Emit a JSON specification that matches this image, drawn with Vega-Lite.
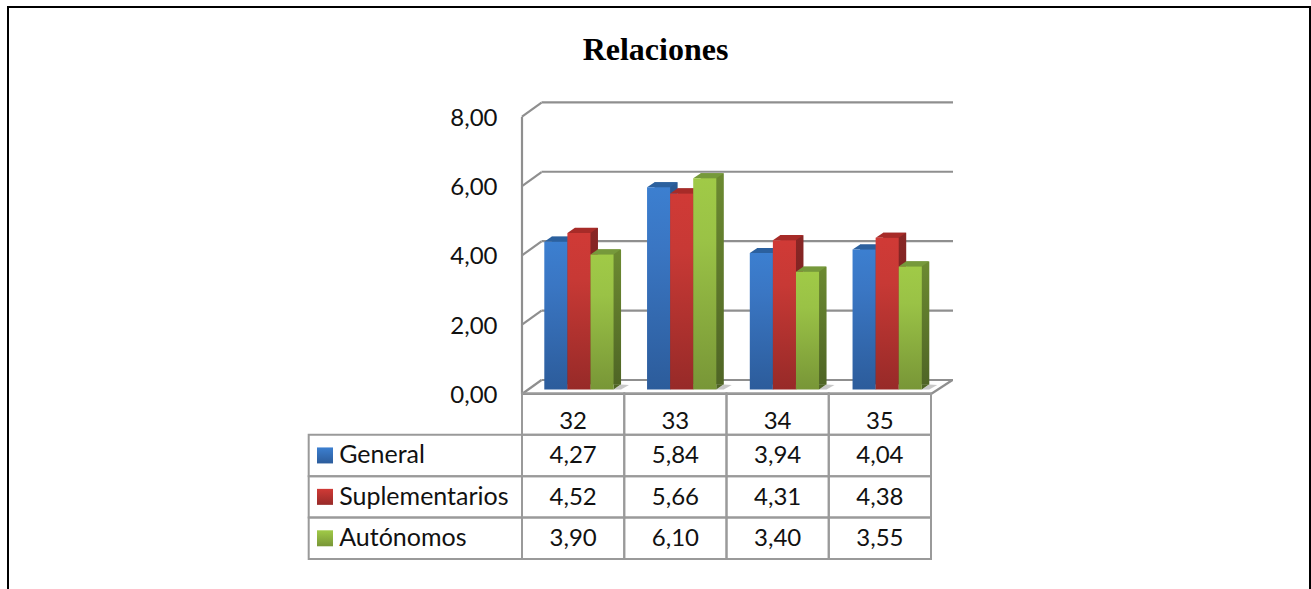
{
  "$schema": "https://vega.github.io/schema/vega-lite/v6.json",
  "width": 1311,
  "height": 589,
  "padding": 0,
  "autosize": {"type": "none"},
  "background": "white",
  "config": {
    "view": {"stroke": null},
    "locale": {"number": {"decimal": ",", "thousands": ".", "grouping": [3], "currency": ["", " €"]}},
    "text": {"font": "Lato", "fontSize": 24, "fill": "#111111"}
  },
  "title": {
    "text": "Relaciones",
    "font": "Liberation Serif",
    "fontSize": 32,
    "fontWeight": "bold",
    "color": "#000000",
    "anchor": "middle",
    "frame": "group",
    "offset": -67
  },
  "datasets": {
    "valores": [
      {"categoria": "32", "serie": "General", "valor": 4.27},
      {"categoria": "32", "serie": "Suplementarios", "valor": 4.52},
      {"categoria": "32", "serie": "Autónomos", "valor": 3.90},
      {"categoria": "33", "serie": "General", "valor": 5.84},
      {"categoria": "33", "serie": "Suplementarios", "valor": 5.66},
      {"categoria": "33", "serie": "Autónomos", "valor": 6.10},
      {"categoria": "34", "serie": "General", "valor": 3.94},
      {"categoria": "34", "serie": "Suplementarios", "valor": 4.31},
      {"categoria": "34", "serie": "Autónomos", "valor": 3.40},
      {"categoria": "35", "serie": "General", "valor": 4.04},
      {"categoria": "35", "serie": "Suplementarios", "valor": 4.38},
      {"categoria": "35", "serie": "Autónomos", "valor": 3.55}
    ],
    "marcas": [{"tick": 0}, {"tick": 2}, {"tick": 4}, {"tick": 6}, {"tick": 8}],
    "unidad": [{"n": 1}]
  },
  "resolve": {"scale": {"x": "independent", "y": "independent", "fill": "independent"}},
  "layer": [
    {
      "description": "Outer page frame, open past the lower edge",
      "data": {"name": "unidad"},
      "mark": {"type": "rect", "fill": null, "stroke": "#000000", "strokeWidth": 2},
      "encoding": {
        "x": {"datum": 0, "type": "quantitative", "scale": {"domain": [0, 1], "range": [8, 1310]}, "axis": null},
        "x2": {"datum": 1},
        "y": {"datum": 0, "type": "quantitative", "scale": {"domain": [0, 1], "range": [7, 700]}, "axis": null},
        "y2": {"datum": 1}
      }
    },
    {
      "description": "Back wall gridlines",
      "data": {"name": "marcas"},
      "mark": {"type": "rule", "stroke": "#8f8f8f", "strokeWidth": 2.2},
      "encoding": {
        "x": {"datum": 0, "type": "quantitative", "scale": {"domain": [0, 4], "range": [541.5, 953]}, "axis": null},
        "x2": {"datum": 4},
        "y": {"field": "tick", "type": "quantitative", "scale": {"domain": [0, 8], "range": [380, 102.3]}, "axis": null}
      }
    },
    {
      "description": "Side wall slants and the value axis labels",
      "data": {"name": "marcas"},
      "mark": {"type": "point", "shape": "M0,0L19.5,-14", "size": 4, "filled": false, "stroke": "#8f8f8f", "strokeWidth": 2.2, "opacity": 1},
      "encoding": {
        "x": {"datum": 0, "type": "quantitative", "scale": {"domain": [0, 4], "range": [522, 931]}, "axis": null},
        "y": {
          "field": "tick",
          "type": "quantitative",
          "scale": {"domain": [0, 8], "range": [394, 116.7]},
          "axis": {
            "orient": "left",
            "offset": -497,
            "domain": false,
            "ticks": false,
            "grid": false,
            "title": null,
            "values": [0, 2, 4, 6, 8],
            "format": ".2f",
            "labelPadding": 0,
            "labelOffset": 1.5,
            "labelFont": "Lato",
            "labelFontSize": 24,
            "labelColor": "#111111"
          }
        }
      }
    },
    {
      "description": "Floor slant at the right end",
      "data": {"name": "unidad"},
      "mark": {"type": "point", "shape": "M0,0L21.5,-14", "size": 4, "filled": false, "stroke": "#8f8f8f", "strokeWidth": 2.2, "opacity": 1},
      "encoding": {
        "x": {"datum": 4, "type": "quantitative", "scale": {"domain": [0, 4], "range": [522, 931]}, "axis": null},
        "y": {"datum": 0, "type": "quantitative", "scale": {"domain": [0, 8], "range": [394, 116.7]}, "axis": null}
      }
    },
    {
      "description": "Front vertical of the value axis",
      "data": {"name": "unidad"},
      "mark": {"type": "rule", "stroke": "#8f8f8f", "strokeWidth": 2.2},
      "encoding": {
        "x": {"datum": 0, "type": "quantitative", "scale": {"domain": [0, 4], "range": [522, 931]}, "axis": null},
        "y": {"datum": 0, "type": "quantitative", "scale": {"domain": [0, 8], "range": [394, 116.7]}, "axis": null},
        "y2": {"datum": 8}
      }
    },
    {
      "description": "Soft floor shadow beside each cluster",
      "data": {"name": "valores"},
      "transform": [{"filter": "datum.serie === 'Autónomos'"}],
      "mark": {"type": "point", "shape": "M11.5,0L19,-5L27,-4.5L19,0Z", "size": 4, "filled": true, "fill": "#9a9a9a", "opacity": 0.55},
      "encoding": {
        "x": {"field": "categoria", "type": "nominal", "scale": {"type": "band", "range": [527.55, 938.55], "paddingInner": 0.326, "paddingOuter": 0.163}, "axis": null},
        "xOffset": {"field": "serie", "type": "nominal", "scale": {"domain": ["General", "Suplementarios", "Autónomos"]}},
        "y": {"datum": 0, "type": "quantitative", "scale": {"domain": [0, 8], "range": [389.4, 112.6]}, "axis": null}
      }
    },
    {
      "description": "General side faces, pushed back along the depth axis",
      "data": {"name": "valores"},
      "transform": [{"filter": "datum.serie === 'General'"}],
      "mark": {"type": "bar", "fill": {"gradient": "linear", "x1": 0, "y1": 0, "x2": 0, "y2": 1, "stops": [{"offset": 0, "color": "#2a5a94"}, {"offset": 1, "color": "#1f4470"}]}},
      "encoding": {
        "x": {"field": "categoria", "type": "nominal", "scale": {"type": "band", "range": [535.05, 946.05], "paddingInner": 0.326, "paddingOuter": 0.163}, "axis": null},
        "xOffset": {"field": "serie", "type": "nominal", "scale": {"domain": ["General", "Suplementarios", "Autónomos"]}},
        "y": {"field": "valor", "type": "quantitative", "stack": null, "scale": {"domain": [0, 8], "range": [384.4, 107.6]}, "axis": null}
      }
    },
    {
      "description": "Suplementarios side faces",
      "data": {"name": "valores"},
      "transform": [{"filter": "datum.serie === 'Suplementarios'"}],
      "mark": {"type": "bar", "fill": {"gradient": "linear", "x1": 0, "y1": 0, "x2": 0, "y2": 1, "stops": [{"offset": 0, "color": "#892625"}, {"offset": 1, "color": "#6a1d1c"}]}},
      "encoding": {
        "x": {"field": "categoria", "type": "nominal", "scale": {"type": "band", "range": [535.05, 946.05], "paddingInner": 0.326, "paddingOuter": 0.163}, "axis": null},
        "xOffset": {"field": "serie", "type": "nominal", "scale": {"domain": ["General", "Suplementarios", "Autónomos"]}},
        "y": {"field": "valor", "type": "quantitative", "stack": null, "scale": {"domain": [0, 8], "range": [384.4, 107.6]}, "axis": null}
      }
    },
    {
      "description": "Autónomos side faces",
      "data": {"name": "valores"},
      "transform": [{"filter": "datum.serie === 'Autónomos'"}],
      "mark": {"type": "bar", "fill": {"gradient": "linear", "x1": 0, "y1": 0, "x2": 0, "y2": 1, "stops": [{"offset": 0, "color": "#6c8a31"}, {"offset": 1, "color": "#4f6525"}]}},
      "encoding": {
        "x": {"field": "categoria", "type": "nominal", "scale": {"type": "band", "range": [535.05, 946.05], "paddingInner": 0.326, "paddingOuter": 0.163}, "axis": null},
        "xOffset": {"field": "serie", "type": "nominal", "scale": {"domain": ["General", "Suplementarios", "Autónomos"]}},
        "y": {"field": "valor", "type": "quantitative", "stack": null, "scale": {"domain": [0, 8], "range": [384.4, 107.6]}, "axis": null}
      }
    },
    {
      "description": "Lower corner of each side face",
      "data": {"name": "valores"},
      "mark": {"type": "point", "shape": "M11.5,0L19,-5.2L11.5,-5.2Z", "size": 4, "filled": true, "opacity": 1},
      "encoding": {
        "x": {"field": "categoria", "type": "nominal", "scale": {"type": "band", "range": [527.55, 938.55], "paddingInner": 0.326, "paddingOuter": 0.163}, "axis": null},
        "xOffset": {"field": "serie", "type": "nominal", "scale": {"domain": ["General", "Suplementarios", "Autónomos"]}},
        "y": {"datum": 0, "type": "quantitative", "scale": {"domain": [0, 8], "range": [389.4, 112.6]}, "axis": null},
        "fill": {"field": "serie", "type": "nominal", "legend": null, "scale": {"domain": ["General", "Suplementarios", "Autónomos"], "range": ["#1f4470", "#6a1d1c", "#4f6525"]}}
      }
    },
    {
      "description": "Bar top faces",
      "data": {"name": "valores"},
      "mark": {"type": "point", "shape": "M-11.5,0L11.5,0L19,-5.2L-4,-5.2Z", "size": 4, "filled": true, "opacity": 1},
      "encoding": {
        "x": {"field": "categoria", "type": "nominal", "scale": {"type": "band", "range": [527.55, 938.55], "paddingInner": 0.326, "paddingOuter": 0.163}, "axis": null},
        "xOffset": {"field": "serie", "type": "nominal", "scale": {"domain": ["General", "Suplementarios", "Autónomos"]}},
        "y": {"field": "valor", "type": "quantitative", "scale": {"domain": [0, 8], "range": [389.4, 112.6]}, "axis": null},
        "fill": {"field": "serie", "type": "nominal", "legend": null, "scale": {"domain": ["General", "Suplementarios", "Autónomos"], "range": ["#2b609e", "#a72b28", "#76993b"]}}
      }
    },
    {
      "description": "General front faces",
      "data": {"name": "valores"},
      "transform": [{"filter": "datum.serie === 'General'"}],
      "mark": {"type": "bar", "fill": {"gradient": "linear", "x1": 0, "y1": 0, "x2": 0, "y2": 1, "stops": [{"offset": 0, "color": "#3c7fd0"}, {"offset": 0.3, "color": "#3a76c3"}, {"offset": 1, "color": "#2c5c9b"}]}},
      "encoding": {
        "x": {"field": "categoria", "type": "nominal", "scale": {"type": "band", "range": [527.55, 938.55], "paddingInner": 0.326, "paddingOuter": 0.163}, "axis": null},
        "xOffset": {"field": "serie", "type": "nominal", "scale": {"domain": ["General", "Suplementarios", "Autónomos"]}},
        "y": {"field": "valor", "type": "quantitative", "stack": null, "scale": {"domain": [0, 8], "range": [389.4, 112.6]}, "axis": null}
      }
    },
    {
      "description": "Suplementarios front faces",
      "data": {"name": "valores"},
      "transform": [{"filter": "datum.serie === 'Suplementarios'"}],
      "mark": {"type": "bar", "fill": {"gradient": "linear", "x1": 0, "y1": 0, "x2": 0, "y2": 1, "stops": [{"offset": 0, "color": "#d03a36"}, {"offset": 0.3, "color": "#c73935"}, {"offset": 1, "color": "#972a28"}]}},
      "encoding": {
        "x": {"field": "categoria", "type": "nominal", "scale": {"type": "band", "range": [527.55, 938.55], "paddingInner": 0.326, "paddingOuter": 0.163}, "axis": null},
        "xOffset": {"field": "serie", "type": "nominal", "scale": {"domain": ["General", "Suplementarios", "Autónomos"]}},
        "y": {"field": "valor", "type": "quantitative", "stack": null, "scale": {"domain": [0, 8], "range": [389.4, 112.6]}, "axis": null}
      }
    },
    {
      "description": "Autónomos front faces",
      "data": {"name": "valores"},
      "transform": [{"filter": "datum.serie === 'Autónomos'"}],
      "mark": {"type": "bar", "fill": {"gradient": "linear", "x1": 0, "y1": 0, "x2": 0, "y2": 1, "stops": [{"offset": 0, "color": "#a0ca47"}, {"offset": 0.3, "color": "#9ac246"}, {"offset": 1, "color": "#789637"}]}},
      "encoding": {
        "x": {"field": "categoria", "type": "nominal", "scale": {"type": "band", "range": [527.55, 938.55], "paddingInner": 0.326, "paddingOuter": 0.163}, "axis": null},
        "xOffset": {"field": "serie", "type": "nominal", "scale": {"domain": ["General", "Suplementarios", "Autónomos"]}},
        "y": {"field": "valor", "type": "quantitative", "stack": null, "scale": {"domain": [0, 8], "range": [389.4, 112.6]}, "axis": null}
      }
    },
    {
      "description": "Front edge of the floor",
      "data": {"name": "unidad"},
      "mark": {"type": "rule", "stroke": "#8f8f8f", "strokeWidth": 2.2},
      "encoding": {
        "x": {"datum": 0, "type": "quantitative", "scale": {"domain": [0, 4], "range": [522, 931]}, "axis": null},
        "x2": {"datum": 4},
        "y": {"datum": 0, "type": "quantitative", "scale": {"domain": [0, 8], "range": [394, 116.7]}, "axis": null}
      }
    },
    {
      "description": "Data table value cells",
      "data": {"name": "valores"},
      "mark": {"type": "rect", "fill": null, "stroke": "#9a9a9a", "strokeWidth": 2},
      "encoding": {
        "x": {"field": "categoria", "type": "nominal", "scale": {"type": "band", "range": [522, 931], "padding": 0}, "axis": null},
        "y": {"field": "serie", "type": "nominal", "scale": {"type": "band", "domain": ["cabecera", "General", "Suplementarios", "Autónomos"], "range": [393.3, 559], "padding": 0}, "axis": null}
      }
    },
    {
      "description": "Data table header cells",
      "data": {"name": "valores"},
      "transform": [{"filter": "datum.serie === 'General'"}],
      "mark": {"type": "rect", "fill": null, "stroke": "#9a9a9a", "strokeWidth": 2},
      "encoding": {
        "x": {"field": "categoria", "type": "nominal", "scale": {"type": "band", "range": [522, 931], "padding": 0}, "axis": null},
        "y": {"datum": "cabecera", "type": "nominal", "scale": {"type": "band", "domain": ["cabecera", "General", "Suplementarios", "Autónomos"], "range": [393.3, 559], "padding": 0}, "axis": null}
      }
    },
    {
      "description": "Data table row heading cells",
      "data": {"name": "valores"},
      "transform": [{"filter": "datum.categoria === '32'"}],
      "mark": {"type": "rect", "fill": null, "stroke": "#9a9a9a", "strokeWidth": 2},
      "encoding": {
        "x": {"datum": 0, "type": "quantitative", "scale": {"domain": [0, 1], "range": [308.7, 522]}, "axis": null},
        "x2": {"datum": 1},
        "y": {"field": "serie", "type": "nominal", "scale": {"type": "band", "domain": ["cabecera", "General", "Suplementarios", "Autónomos"], "range": [393.3, 559], "padding": 0}, "axis": null}
      }
    },
    {
      "description": "General legend swatch",
      "data": {"name": "valores"},
      "transform": [{"filter": "datum.categoria === '32' && datum.serie === 'General'"}],
      "mark": {"type": "point", "shape": "square", "size": 256, "filled": true, "opacity": 1, "xOffset": 16.3, "fill": {"gradient": "linear", "x1": 0, "y1": 0, "x2": 0, "y2": 1, "stops": [{"offset": 0, "color": "#3c7fd0"}, {"offset": 1, "color": "#2c5c9b"}]}},
      "encoding": {
        "x": {"datum": 0, "type": "quantitative", "scale": {"domain": [0, 1], "range": [308.7, 522]}, "axis": null},
        "y": {"field": "serie", "type": "nominal", "scale": {"type": "band", "domain": ["cabecera", "General", "Suplementarios", "Autónomos"], "range": [393.3, 559], "padding": 0}, "axis": null}
      }
    },
    {
      "description": "Suplementarios legend swatch",
      "data": {"name": "valores"},
      "transform": [{"filter": "datum.categoria === '32' && datum.serie === 'Suplementarios'"}],
      "mark": {"type": "point", "shape": "square", "size": 256, "filled": true, "opacity": 1, "xOffset": 16.3, "fill": {"gradient": "linear", "x1": 0, "y1": 0, "x2": 0, "y2": 1, "stops": [{"offset": 0, "color": "#d03a36"}, {"offset": 1, "color": "#972a28"}]}},
      "encoding": {
        "x": {"datum": 0, "type": "quantitative", "scale": {"domain": [0, 1], "range": [308.7, 522]}, "axis": null},
        "y": {"field": "serie", "type": "nominal", "scale": {"type": "band", "domain": ["cabecera", "General", "Suplementarios", "Autónomos"], "range": [393.3, 559], "padding": 0}, "axis": null}
      }
    },
    {
      "description": "Autónomos legend swatch",
      "data": {"name": "valores"},
      "transform": [{"filter": "datum.categoria === '32' && datum.serie === 'Autónomos'"}],
      "mark": {"type": "point", "shape": "square", "size": 256, "filled": true, "opacity": 1, "xOffset": 16.3, "fill": {"gradient": "linear", "x1": 0, "y1": 0, "x2": 0, "y2": 1, "stops": [{"offset": 0, "color": "#a0ca47"}, {"offset": 1, "color": "#789637"}]}},
      "encoding": {
        "x": {"datum": 0, "type": "quantitative", "scale": {"domain": [0, 1], "range": [308.7, 522]}, "axis": null},
        "y": {"field": "serie", "type": "nominal", "scale": {"type": "band", "domain": ["cabecera", "General", "Suplementarios", "Autónomos"], "range": [393.3, 559], "padding": 0}, "axis": null}
      }
    },
    {
      "description": "Row heading text",
      "data": {"name": "valores"},
      "transform": [{"filter": "datum.categoria === '32'"}],
      "mark": {"type": "text", "align": "left", "baseline": "middle", "dx": 30.5, "dy": 0, "fontSize": 25},
      "encoding": {
        "x": {"datum": 0, "type": "quantitative", "scale": {"domain": [0, 1], "range": [308.7, 522]}, "axis": null},
        "y": {"field": "serie", "type": "nominal", "scale": {"type": "band", "domain": ["cabecera", "General", "Suplementarios", "Autónomos"], "range": [393.3, 559], "padding": 0}, "axis": null},
        "text": {"field": "serie", "type": "nominal"}
      }
    },
    {
      "description": "Category labels in the table header",
      "data": {"name": "valores"},
      "transform": [{"filter": "datum.serie === 'General'"}],
      "mark": {"type": "text", "align": "center", "baseline": "middle", "dy": 8},
      "encoding": {
        "x": {"field": "categoria", "type": "nominal", "scale": {"type": "band", "range": [522, 931], "padding": 0}, "axis": null},
        "y": {"datum": "cabecera", "type": "nominal", "scale": {"type": "band", "domain": ["cabecera", "General", "Suplementarios", "Autónomos"], "range": [393.3, 559], "padding": 0}, "axis": null},
        "text": {"field": "categoria", "type": "nominal"}
      }
    },
    {
      "description": "Value text in the table cells",
      "data": {"name": "valores"},
      "mark": {"type": "text", "align": "center", "baseline": "middle", "dy": 1},
      "encoding": {
        "x": {"field": "categoria", "type": "nominal", "scale": {"type": "band", "range": [522, 931], "padding": 0}, "axis": null},
        "y": {"field": "serie", "type": "nominal", "scale": {"type": "band", "domain": ["cabecera", "General", "Suplementarios", "Autónomos"], "range": [393.3, 559], "padding": 0}, "axis": null},
        "text": {"field": "valor", "type": "quantitative", "format": ".2f"}
      }
    }
  ]
}
